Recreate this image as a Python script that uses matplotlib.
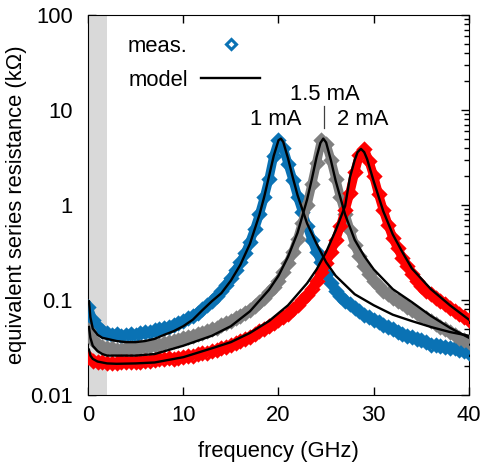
import numpy as np
import matplotlib.pyplot as plt
from matplotlib.lines import Line2D

plt.rcParams['font.family'] = ['Liberation Sans', 'DejaVu Sans']
plt.rcParams['font.size'] = 15.8

# measured data, every 0.5 GHz
freq_meas = np.arange(0, 40.01, 0.5)
meas_1mA = [0.085, 0.062, 0.052, 0.047, 0.045, 0.043, 0.044, 0.042, 0.043, 0.044,
            0.043, 0.045, 0.046, 0.046, 0.048, 0.049, 0.051, 0.052, 0.055, 0.057,
            0.060, 0.064, 0.068, 0.073, 0.080, 0.088, 0.098, 0.110, 0.125, 0.145,
            0.170, 0.205, 0.25, 0.31, 0.41, 0.56, 0.80, 1.20, 1.90, 3.30,
            4.80, 4.00, 2.70, 1.85, 1.22, 0.85, 0.60, 0.43, 0.32, 0.25,
            0.19, 0.15, 0.125, 0.11, 0.098, 0.090, 0.082, 0.076, 0.070, 0.066,
            0.062, 0.058, 0.055, 0.052, 0.049, 0.046, 0.044, 0.042, 0.041, 0.039,
            0.038, 0.036, 0.034, 0.034, 0.033, 0.032, 0.031, 0.031, 0.030, 0.029,
            0.028]
meas_15mA = [0.048, 0.038, 0.034, 0.032, 0.031, 0.031, 0.030, 0.030, 0.031, 0.031,
             0.031, 0.032, 0.032, 0.033, 0.034, 0.034, 0.035, 0.036, 0.037, 0.038,
             0.040, 0.041, 0.042, 0.044, 0.045, 0.047, 0.049, 0.051, 0.054, 0.057,
             0.060, 0.064, 0.068, 0.073, 0.079, 0.086, 0.095, 0.106, 0.12, 0.138,
             0.16, 0.195, 0.245, 0.32, 0.44, 0.65, 1.00, 1.65, 2.80, 4.80,
             4.40, 3.00, 1.90, 1.20, 0.80, 0.55, 0.38, 0.29, 0.23, 0.19,
             0.16, 0.14, 0.125, 0.115, 0.105, 0.098, 0.092, 0.085, 0.079, 0.073,
             0.068, 0.064, 0.060, 0.056, 0.052, 0.049, 0.046, 0.043, 0.040, 0.038,
             0.036]
meas_2mA = [0.025, 0.023, 0.022, 0.022, 0.0215, 0.0215, 0.0215, 0.022, 0.022, 0.022,
            0.0225, 0.0225, 0.023, 0.023, 0.0235, 0.024, 0.024, 0.0245, 0.024, 0.0245,
            0.025, 0.0255, 0.026, 0.027, 0.0275, 0.028, 0.029, 0.030, 0.031, 0.032,
            0.0335, 0.035, 0.037, 0.039, 0.041, 0.044, 0.047, 0.050, 0.053, 0.057,
            0.061, 0.066, 0.072, 0.080, 0.088, 0.099, 0.113, 0.132, 0.158, 0.195,
            0.245, 0.32, 0.43, 0.60, 0.88, 1.35, 2.20, 3.40, 3.90, 2.90,
            2.00, 1.30, 0.88, 0.62, 0.45, 0.35, 0.28, 0.23, 0.19, 0.16,
            0.14, 0.125, 0.115, 0.105, 0.097, 0.090, 0.083, 0.077, 0.071, 0.066,
            0.061]

# model curves
freq_mod_1mA = [0.1, 0.25, 0.5, 1, 1.5, 2, 3, 4, 5, 6, 7, 8, 9, 10, 11, 12, 13, 14, 15, 16,
                17, 18, 18.5, 19, 19.5, 20, 20.25, 20.5, 21, 21.5, 22, 23, 24, 25, 26, 28,
                30, 32, 34, 36, 38, 40]
mod_1mA = [0.097, 0.066, 0.050, 0.043, 0.040, 0.039, 0.037, 0.036, 0.036, 0.037, 0.039,
           0.043, 0.047, 0.053, 0.062, 0.078, 0.097, 0.118, 0.16, 0.235, 0.39, 0.79, 1.22,
           2.0, 3.3, 4.8, 5.0, 4.6, 3.1, 1.95, 1.27, 0.64, 0.39, 0.25, 0.18, 0.115,
           0.088, 0.07, 0.06, 0.052, 0.046, 0.042]
freq_mod_15mA = [0.1, 0.25, 0.5, 1, 1.5, 2, 3, 5, 7, 10, 13, 15, 17, 19, 20, 21, 22, 23,
                 23.5, 24, 24.4, 24.7, 25, 25.5, 26, 27, 28, 29, 30, 32, 34, 36, 38, 40]
mod_15mA = [0.052, 0.040, 0.033, 0.029, 0.027, 0.026, 0.026, 0.026, 0.027, 0.033, 0.042,
            0.053, 0.076, 0.128, 0.18, 0.285, 0.51, 1.14, 1.87, 3.2, 4.5, 5.0, 4.55, 2.96,
            1.8, 0.79, 0.43, 0.29, 0.21, 0.13, 0.095, 0.068, 0.051, 0.040]
freq_mod_2mA = [0.1, 0.25, 0.5, 1, 2, 3, 5, 7, 10, 13, 15, 17, 19, 21, 23, 24, 25, 26, 27,
                27.5, 28, 28.3, 28.66, 29, 29.3, 30, 31, 32, 33, 34, 36, 38, 40]
mod_2mA = [0.030, 0.026, 0.024, 0.0225, 0.0215, 0.0213, 0.0215, 0.022, 0.025, 0.031,
           0.036, 0.045, 0.06, 0.088, 0.15, 0.21, 0.32, 0.54, 0.98, 1.96, 2.97, 3.6, 3.9,
           3.6, 3.05, 1.77, 0.86, 0.49, 0.32, 0.215, 0.13, 0.088, 0.062]

blue = '#0a72b4'
gray = '#808080'
red = '#ff0000'

fig = plt.figure(figsize=(4.85, 4.69), dpi=100)
ax = fig.add_axes([88/485, 1-395/469, 381/485, 380/469])

ax.axvspan(0, 2, color='#d9d9d9', lw=0, zorder=2)

for vals, c in [(meas_1mA, blue), (meas_15mA, gray), (meas_2mA, red)]:
    ax.plot(freq_meas, vals, color=c, lw=6.5, zorder=3, solid_joinstyle='round')
    ax.plot(freq_meas, vals, ls='none', marker='D', ms=6, mew=2.2, mfc='none', mec=c, zorder=3)

for fm, vals in [(freq_mod_1mA, mod_1mA), (freq_mod_15mA, mod_15mA), (freq_mod_2mA, mod_2mA)]:
    ax.plot(fm, vals, color='black', lw=1.7, zorder=4)

ax.text(19.7, 7.85, '1 mA', ha='center', va='center')
ax.text(24.9, 14.4, '1.5 mA', ha='center', va='center')
ax.text(28.8, 7.85, '2 mA', ha='center', va='center')
ax.plot([24.78, 24.78], [6.5, 11.0], color='#404040', lw=0.9)

ax.set_yscale('log')
ax.set_xlim(0, 40)
ax.set_ylim(0.01, 100)
ax.set_xticks([0, 10, 20, 30, 40])
ax.set_yticks([0.01, 0.1, 1, 10, 100], ['0.01', '0.1', '1', '10', '100'])
ax.tick_params(which='both', direction='in', top=True, right=True, width=1)
ax.tick_params(which='major', length=6)
ax.tick_params(which='minor', length=3.5)
ax.tick_params(axis='y', pad=11)
ax.tick_params(axis='x', pad=7)
ax.set_xlabel('frequency (GHz)', labelpad=11)
ax.set_ylabel('equivalent series resistance (k\u03a9)', labelpad=2)

handles = [Line2D([], [], ls='none', marker='D', ms=5, mew=2.2, mfc='white', mec=blue),
           Line2D([], [], color='black', lw=1.7)]
fig.legend(handles, ['meas.', 'model'], loc='upper left', bbox_to_anchor=(128/485, 1-36/469),
           frameon=False, markerfirst=False, handlelength=2.7, handletextpad=0.6,
           labelspacing=0.6, borderpad=0, borderaxespad=0, numpoints=1)

fig.savefig('out.png', dpi=100)
